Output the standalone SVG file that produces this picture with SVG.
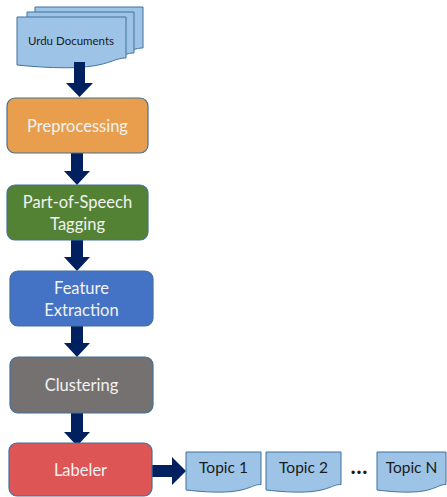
<svg xmlns="http://www.w3.org/2000/svg" width="447" height="497" viewBox="0 0 447 497">
<defs>
<style>
.box{stroke:#41719C;stroke-width:1.2}
.doc{fill:#9DC3E6;stroke:#41719C;stroke-width:1}
.lbl{font-family:Lato,"Open Sans","Liberation Sans",sans-serif;font-size:16.5px;fill:#F2F2F2;text-anchor:middle}
.dl{font-family:Lato,"Open Sans","Liberation Sans",sans-serif;fill:#1a1a1a;text-anchor:middle}
.arr{fill:#002060}
</style>
</defs>
<rect width="447" height="497" fill="#ffffff"/>
<g id="urdu-documents">
<path class="doc" d="M35,7 H143 V48 C126,48 126,64 35,55 Z"/>
<path class="doc" d="M27,12 H134 V53 C117,53 117,69 27,60 Z"/>
<path class="doc" d="M17,17 H126 V58 C108,58 108,74 17,65 Z"/>
<text class="dl" x="71" y="45" font-size="11.5">Urdu Documents</text>
</g>
<g id="connectors">
<path class="arr" d="M74,62 H85 V83 H93 L79.5,97 L66,83 H74 Z"/>
<path class="arr" d="M71,153 H83 V171 H90 L77,185 L64,171 H71 Z"/>
<path class="arr" d="M71,240 H83 V257 H90 L77,271 L64,257 H71 Z"/>
<path class="arr" d="M71,326 H83 V343 H90 L77,357 L64,343 H71 Z"/>
<path class="arr" d="M71,413 H83 V432 H90 L77,446 L64,432 H71 Z"/>
<path class="arr" d="M152,465 H172 V457 L186,471 L172,485 V477 H152 Z"/>
</g>
<g id="preprocessing">
<rect class="box" x="7" y="98" width="141" height="55" rx="8" fill="#E89E4D"/>
<text class="lbl" x="77.5" y="132">Preprocessing</text>
</g>
<g id="pos-tagging">
<rect class="box" x="7" y="185" width="141" height="55" rx="8" fill="#548235"/>
<text class="lbl" x="77.5" y="208">Part-of-Speech</text>
<text class="lbl" x="77.5" y="230">Tagging</text>
</g>
<g id="feature-extraction">
<rect class="box" x="10" y="271" width="143" height="55" rx="8" fill="#4472C4"/>
<text class="lbl" x="81.5" y="294">Feature</text>
<text class="lbl" x="81.5" y="316">Extraction</text>
</g>
<g id="clustering">
<rect class="box" x="10" y="357" width="143" height="56" rx="8" fill="#767171"/>
<text class="lbl" x="81.5" y="391">Clustering</text>
</g>
<g id="labeler">
<rect class="box" x="9" y="443" width="143" height="53" rx="8" fill="#DE5555"/>
<text class="lbl" x="80.5" y="476">Labeler</text>
</g>
<g id="topic-1">
<path class="doc" d="M186,452 H261 V484.5 C248,484.5 248,497 186,490 Z"/>
<text class="dl" x="223.5" y="473" font-size="15.5">Topic 1</text>
</g>
<g id="topic-2">
<path class="doc" d="M266,452 H341 V484.5 C328,484.5 328,497 266,490 Z"/>
<text class="dl" x="303.5" y="473" font-size="15.5">Topic 2</text>
</g>
<g id="ellipsis">
<text class="dl" x="359" y="474" font-size="22" font-weight="bold">…</text>
</g>
<g id="topic-n">
<path class="doc" d="M377,452 H446 V484.5 C434,484.5 434,497 377,490 Z"/>
<text class="dl" x="411.5" y="473" font-size="15.5">Topic N</text>
</g>
</svg>
